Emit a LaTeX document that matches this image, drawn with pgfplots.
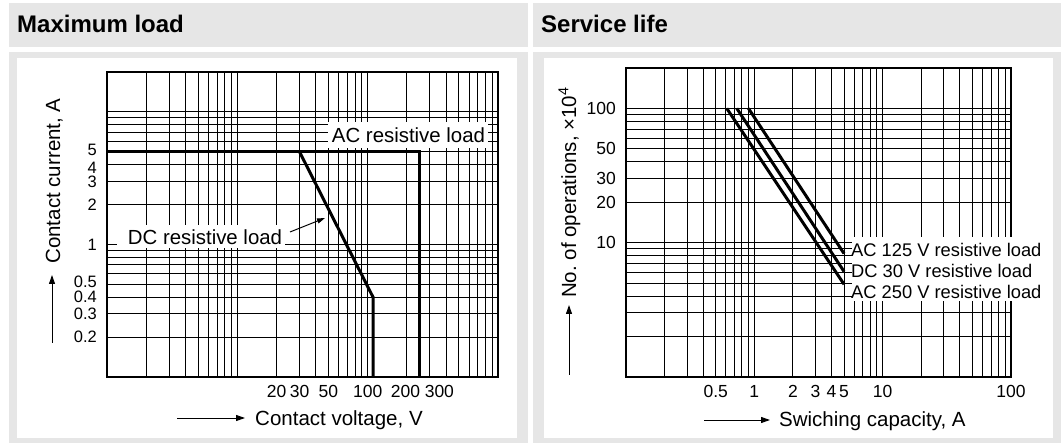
\documentclass[border=0pt]{standalone}
\usepackage{fontspec}
\setmainfont{Liberation Sans}
\usepackage{pgfplots}
\pgfplotsset{compat=1.18}
\usetikzlibrary{arrows.meta}
\definecolor{panelgray}{RGB}{230,230,230}

\newcommand\tickfont{\fontsize{17.5}{20}\selectfont}
\newcommand\ytickfont{\fontsize{16.5}{18}\selectfont}
\newcommand\labfont{\fontsize{20.5}{24}\selectfont}
\newcommand\annfont{\fontsize{20.4}{24}\selectfont}
\newcommand\annfontb{\fontsize{18.3}{21}\selectfont}

\pgfplotsset{
 myaxis/.style={
  scale only axis,
  axis line style={line width=2pt},
  xmajorgrids=false, ymajorgrids=false,
  grid style={black, line width=1pt},
  major tick length=0pt, minor tick length=0pt,
  xminorticks=false, yminorticks=false,
  xticklabel style={font=\tickfont, anchor=north, inner sep=0pt, yshift=-8pt},
  yticklabel style={font=\ytickfont, anchor=east, inner sep=0pt, xshift=-10pt},
  extra x tick labels={}, extra y tick labels={},
  extra tick style={grid=major, major tick length=0pt},
 }
}

\begin{document}
\begin{tikzpicture}
\begin{scope}[x=1pt,y=1pt]
\useasboundingbox (0,0) rectangle (1064,444);
\fill[white] (0,0) rectangle (1064,444);
% headers
\fill[panelgray] (9,441) rectangle (528,397);
\fill[panelgray] (533,441) rectangle (1061,397);
\node[anchor=base west, inner sep=0pt, font=\fontsize{24}{28}\selectfont\bfseries] at (17,411) {Maximum load};
\node[anchor=base west, inner sep=0pt, font=\fontsize{24}{28}\selectfont\bfseries] at (541,411) {Service life};
% frames
\fill[panelgray] (9,392) rectangle (528,1);
\fill[white] (17,386) rectangle (517,6);
\fill[panelgray] (533,392) rectangle (1061,1);
\fill[white] (544,386) rectangle (1053,6);
\end{scope}

% Maximum load
\begin{loglogaxis}[myaxis, at={(107pt,67pt)}, anchor=south west, width=391pt, height=305pt,
 xmin=1, xmax=1000, ymin=0.1, ymax=20,
 xtick={20,30,50,100,195,355}, xticklabels={20,30,50,100,200,300},
 extra x ticks={1,2,3,4,5,6,7,8,9,10,20,30,40,50,60,70,80,90,100,200,300,400,500,600,700,800,900},
 ytick={0.2,0.3,0.4,0.52,1,2,2.95,3.8,5.15}, yticklabels={0.2,0.3,0.4,0.5,1,2,3,4,5},
 extra y ticks={0.1,0.2,0.3,0.4,0.5,0.6,0.7,0.8,0.9,1,2,3,4,5,6,7,8,9,10},
]
\addplot[line width=3pt] coordinates {(1,5) (250,5) (250,0.1)};
\addplot[line width=3pt] coordinates {(30,5) (110,0.4) (110,0.1)};
\end{loglogaxis}

% Service life
\begin{loglogaxis}[myaxis, at={(626pt,67pt)}, anchor=south west, width=385pt, height=309pt,
 xmin=0.1, xmax=100, ymin=1, ymax=200,
 xtick={0.5,1,2,3,4,5,10,100}, xticklabels={0.5,1,2,3,4,5,10,100},
 extra x ticks={0.1,0.2,0.3,0.4,0.5,0.6,0.7,0.8,0.9,1,2,3,4,5,6,7,8,9,10,20,30,40,50,60,70,80,90},
 ytick={10,20,30,50,100}, yticklabels={10,20,30,50,100},
 yticklabel style={font=\tickfont},
 extra y ticks={1,2,3,4,5,6,7,8,9,10,20,30,40,50,60,70,80,90,100},
]
\addplot[line width=3pt] coordinates {(0.9,100) (5,8.3)};
\addplot[line width=3pt] coordinates {(0.73,100) (5,6.1)};
\addplot[line width=3pt] coordinates {(0.61,100) (5,4.9)};
\end{loglogaxis}

\begin{scope}[x=1pt,y=1pt]
% panel 1 annotations
\fill[white] (328,322) rectangle (488,296);
\node[anchor=base, font=\annfont, inner sep=0pt] at (408.5,301) {AC resistive load};
\fill[white] (117,219) rectangle (285,196);
\node[anchor=base, font=\annfont, inner sep=0pt] at (205,199) {DC resistive load};
\draw[line width=1pt, -{Triangle[length=8pt,width=5pt]}] (290,212) -- (325,226);
% panel 1 axis labels
\node[rotate=90, anchor=base, font=\labfont, inner sep=0pt] at (60,263) {Contact current, A};
\draw[line width=1pt, -{Triangle[length=9pt,width=6pt]}] (52,101) -- (52,169);
\node[anchor=base west, font=\labfont, inner sep=0pt] at (255,19) {Contact voltage, V};
\draw[line width=1pt, -{Triangle[length=9pt,width=6pt]}] (177,26) -- (245,26);
% panel 2 annotations
\fill[white] (852,207) rectangle (1046,143);
\node[anchor=base west, font=\annfontb, inner sep=0pt] at (851,187) {AC 125 V resistive load};
\node[anchor=base west, font=\annfontb, inner sep=0pt] at (851,166) {DC 30 V resistive load};
\node[anchor=base west, font=\annfontb, inner sep=0pt] at (851,145) {AC 250 V resistive load};
% panel 2 axis labels
\node[rotate=90, anchor=base, font=\labfont, inner sep=0pt] at (576,251.5) {No.\ of operations, ×10\textsuperscript{4}};
\draw[line width=1pt, -{Triangle[length=9pt,width=6pt]}] (569,69) -- (569,139);
\node[anchor=base west, font=\labfont, inner sep=0pt] at (779,18) {Swiching capacity, A};
\draw[line width=1pt, -{Triangle[length=9pt,width=6pt]}] (704,24) -- (770,24);
\end{scope}
\end{tikzpicture}
\end{document}
